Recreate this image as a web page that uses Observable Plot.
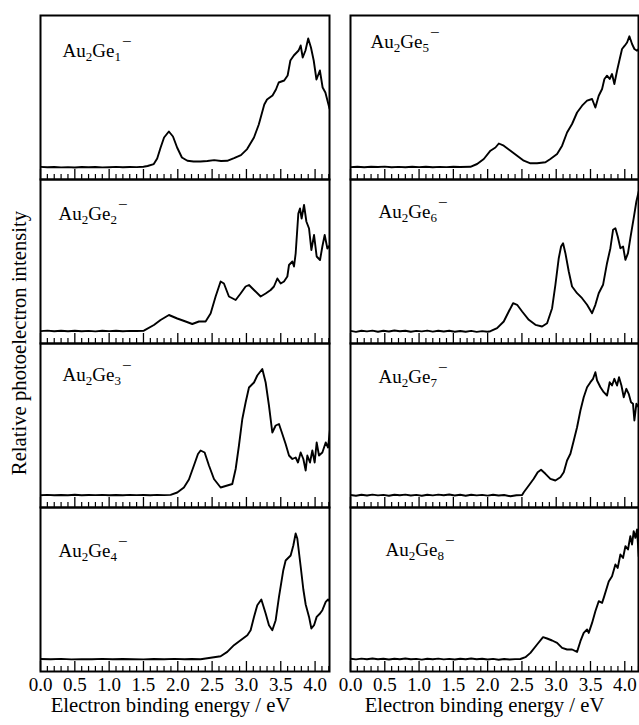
<!DOCTYPE html>
<html><head><meta charset="utf-8">
<script src="https://cdn.jsdelivr.net/npm/d3@7"></script>
<script src="https://cdn.jsdelivr.net/npm/@observablehq/plot@0.6"></script>
<style>
html,body{margin:0;padding:0;background:#fff;}
#chart{position:relative;width:639px;height:725px;overflow:hidden;background:#fff;}
#chart svg{position:absolute;}
</style></head><body><div id="chart"></div>
<script>
// ---- data (electron binding energy in eV, relative intensity in arbitrary units) ----
const species = ["Au2Ge1","Au2Ge2","Au2Ge3","Au2Ge4","Au2Ge5","Au2Ge6","Au2Ge7","Au2Ge8"];
const majorTicks = [0.0,0.5,1.0,1.5,2.0,2.5,3.0,3.5,4.0];
const minorTicks = [0.1,0.2,0.3,0.4,0.6,0.7,0.8,0.9,1.1,1.2,1.3,1.4,1.6,1.7,1.8,1.9,2.1,2.2,2.3,2.4,2.6,2.7,2.8,2.9,3.1,3.2,3.3,3.4,3.6,3.7,3.8,3.9,4.1,4.2];
const xTitle = "Electron binding energy / eV";
const yTitle = "Relative photoelectron intensity";

const ge1 = [[0.00,0.6],[0.10,0.2],[0.20,0.5],[0.30,0.1],[0.40,0.4],[0.50,0.0],[0.60,0.5],[0.70,0.2],[0.80,0.5],[0.90,0.1],[1.00,0.3],[1.10,0.6],[1.20,0.2],[1.30,0.5],[1.40,0.4],[1.50,0.8],[1.56,1.5],[1.65,3.4],[1.70,9],[1.75,20],[1.80,30],[1.87,36],[1.93,31],[1.99,20],[2.06,10],[2.14,6.7],[2.23,6.0],[2.33,6.0],[2.43,6.5],[2.53,7.4],[2.63,6.5],[2.72,6.7],[2.82,9.4],[2.92,12.4],[3.01,18.4],[3.11,30],[3.18,43],[3.26,63],[3.30,68],[3.38,72],[3.43,78],[3.47,85],[3.55,87],[3.60,92],[3.64,107],[3.69,112],[3.76,117],[3.79,122],[3.82,110],[3.86,117],[3.90,129],[3.94,120],[3.98,107],[4.02,88],[4.07,97],[4.11,80],[4.15,75],[4.21,59]];
const ge2 = [[0.00,0.4],[0.10,0.9],[0.20,0.3],[0.30,0.7],[0.40,0.2],[0.50,0.8],[0.60,0.3],[0.70,0.6],[0.80,0.1],[0.90,0.7],[1.00,0.4],[1.10,0.8],[1.20,0.3],[1.30,0.6],[1.40,0.5],[1.506,0.8],[1.652,6.5],[1.749,11.5],[1.871,16.5],[1.992,13],[2.114,10],[2.211,7.5],[2.308,10],[2.405,10],[2.478,18],[2.551,35],[2.624,50],[2.672,48],[2.745,35],[2.843,31.5],[2.915,38],[2.988,45],[3.037,46.5],[3.110,41.5],[3.207,35],[3.280,38],[3.353,41.5],[3.401,45],[3.450,53],[3.499,48],[3.547,50],[3.596,55],[3.620,66.5],[3.669,70],[3.693,65],[3.717,78],[3.756,118],[3.780,123],[3.804,113],[3.839,126.5],[3.873,110],[3.912,103],[3.946,81.5],[3.985,96.5],[4.023,75],[4.072,71.5],[4.106,85],[4.140,96.5],[4.179,83],[4.218,86.5]];
const ge3 = [[0.00,0.3],[0.10,0.6],[0.20,0.2],[0.30,0.5],[0.40,0.3],[0.50,0.7],[0.60,0.2],[0.70,0.5],[0.80,0.4],[0.90,0.6],[1.00,0.2],[1.10,0.5],[1.20,0.3],[1.30,0.6],[1.40,0.4],[1.50,0.5],[1.60,0.3],[1.70,0.6],[1.80,0.4],[1.895,0.6],[1.992,3],[2.089,8],[2.162,16],[2.235,30],[2.294,41.5],[2.332,45],[2.391,43],[2.454,30],[2.527,16.5],[2.624,8],[2.721,10],[2.794,11.5],[2.843,26.5],[2.891,50],[2.940,76.5],[2.988,93],[3.037,108],[3.110,113],[3.158,120],[3.231,126.5],[3.280,113],[3.328,90],[3.377,63],[3.426,70],[3.474,71.5],[3.523,61.5],[3.571,51.5],[3.620,40],[3.669,36.5],[3.717,38],[3.751,33],[3.790,43],[3.829,36.5],[3.863,25],[3.887,40],[3.926,33],[3.960,45],[3.994,33],[4.023,53],[4.057,40],[4.106,43],[4.155,53],[4.189,48],[4.218,66.5]];
const ge4 = [[0.00,0.5],[0.15,0.2],[0.30,0.6],[0.45,0.1],[0.60,0.4],[0.75,0.3],[0.90,0.6],[1.05,0.2],[1.20,0.5],[1.35,0.3],[1.50,0.1],[1.65,0.5],[1.80,0.3],[1.95,0.6],[2.10,0.2],[2.20,0.5],[2.332,0.3],[2.478,1.7],[2.624,3.3],[2.721,7.6],[2.818,14.3],[2.915,19.3],[3.013,24.3],[3.061,29.3],[3.110,42.6],[3.158,54.3],[3.217,60],[3.280,46],[3.328,34.3],[3.377,29.3],[3.426,39.3],[3.474,62.6],[3.537,89.3],[3.571,99],[3.644,104],[3.683,114],[3.717,126],[3.741,121],[3.790,93],[3.829,70],[3.863,55],[3.912,42.6],[3.946,31],[3.985,34.3],[4.023,42.6],[4.072,46],[4.106,49.3],[4.155,57.6],[4.189,60],[4.218,57.6]];
const ge5 = [[0.00,0.4],[0.10,0.8],[0.20,0.3],[0.30,0.7],[0.40,0.5],[0.50,0.9],[0.60,0.3],[0.70,0.6],[0.80,0.2],[0.90,0.7],[1.00,0.4],[1.10,0.8],[1.20,0.3],[1.30,0.6],[1.40,0.4],[1.50,0.7],[1.60,0.5],[1.749,0.7],[1.846,3.5],[1.944,8.5],[2.041,16.8],[2.114,20],[2.163,24],[2.235,21.8],[2.333,16.8],[2.430,11.8],[2.527,6.8],[2.624,4.2],[2.721,4.2],[2.843,5.2],[2.915,8.5],[3.013,13.5],[3.086,21.8],[3.158,35],[3.231,43.5],[3.304,55],[3.377,61.8],[3.450,66.8],[3.523,68.5],[3.571,60],[3.620,71.8],[3.669,78.5],[3.703,88.5],[3.741,91.8],[3.780,88.5],[3.814,93.5],[3.848,83.5],[3.887,96.8],[3.926,108.5],[3.960,118.5],[3.999,121.8],[4.033,125],[4.067,131.2],[4.106,123.5],[4.140,118.5],[4.179,116.8],[4.203,118.5]];
const ge6 = [[0.00,0.6],[0.08,-0.4],[0.16,0.8],[0.24,0.1],[0.32,0.9],[0.40,-0.2],[0.48,0.7],[0.56,0.0],[0.64,1.0],[0.72,0.2],[0.80,0.8],[0.88,-0.3],[0.96,0.6],[1.04,0.1],[1.12,0.9],[1.20,-0.1],[1.28,0.7],[1.36,0.0],[1.44,0.8],[1.52,-0.3],[1.60,0.5],[1.68,-0.2],[1.76,0.6],[1.84,-0.4],[1.92,0.4],[2.00,-0.2],[2.041,0.3],[2.138,3.3],[2.235,10],[2.308,20],[2.371,28.3],[2.430,26.7],[2.503,20],[2.600,11.7],[2.697,6.7],[2.794,5],[2.867,8.3],[2.940,23.3],[2.988,46.7],[3.037,73.3],[3.071,85],[3.100,88.3],[3.134,78.3],[3.183,60],[3.231,45],[3.304,38.3],[3.377,33.3],[3.450,26.7],[3.523,18.3],[3.571,26.7],[3.620,38.3],[3.683,46.7],[3.741,68.3],[3.790,83.3],[3.829,101.7],[3.863,103.3],[3.897,95],[3.936,83.3],[3.975,85],[4.009,71.7],[4.047,78.3],[4.081,93.3],[4.130,113.3],[4.169,130],[4.203,140]];
const ge7 = [[0.00,0.5],[0.08,-0.3],[0.16,0.7],[0.24,0.0],[0.32,0.9],[0.40,0.1],[0.48,0.6],[0.56,-0.2],[0.64,0.8],[0.72,0.2],[0.80,0.9],[0.88,0.0],[0.96,0.6],[1.04,-0.3],[1.12,0.7],[1.20,0.1],[1.28,0.9],[1.36,0.2],[1.44,1.0],[1.52,0.0],[1.60,0.7],[1.68,-0.2],[1.76,0.8],[1.84,0.1],[1.92,0.6],[2.00,-0.1],[2.08,0.7],[2.16,0.0],[2.24,0.5],[2.332,-0.8],[2.42,0.3],[2.503,0.5],[2.527,3.3],[2.600,10],[2.672,16.7],[2.730,23.3],[2.779,25.7],[2.843,21.7],[2.915,16.7],[2.988,15],[3.061,18.3],[3.110,23.3],[3.158,35],[3.207,41.7],[3.256,55],[3.304,68.3],[3.353,85],[3.401,98.3],[3.450,108.3],[3.499,113.3],[3.537,116.7],[3.571,123.3],[3.596,115],[3.645,108.3],[3.693,103.3],[3.741,100],[3.780,113.3],[3.814,110],[3.848,116.7],[3.887,110],[3.916,118.3],[3.951,110],[3.985,98.3],[4.023,106.7],[4.057,101.7],[4.091,93.3],[4.120,91.7],[4.140,75],[4.169,91.7],[4.203,88.3]];
const ge8 = [[0.00,0.8],[0.08,0.1],[0.16,0.9],[0.24,0.3],[0.32,1.0],[0.40,0.2],[0.48,0.8],[0.56,0.0],[0.64,0.7],[0.72,0.3],[0.80,1.0],[0.88,0.2],[0.96,0.6],[1.04,-0.1],[1.12,0.7],[1.20,0.3],[1.28,0.9],[1.36,0.1],[1.44,0.6],[1.52,0.0],[1.60,0.8],[1.68,0.2],[1.76,1.0],[1.84,0.3],[1.92,0.7],[2.00,0.0],[2.08,0.6],[2.16,-0.2],[2.24,0.5],[2.32,0.0],[2.40,0.4],[2.478,0.5],[2.551,2.3],[2.624,6.6],[2.721,15],[2.808,22.3],[2.867,21],[2.940,19],[3.013,16.6],[3.086,11.6],[3.158,10],[3.231,10],[3.304,7.6],[3.353,18.3],[3.401,26.6],[3.450,30],[3.474,26.6],[3.523,36.6],[3.571,48.3],[3.620,58.3],[3.669,56.6],[3.693,61.6],[3.766,78],[3.814,83.3],[3.863,95],[3.897,91.6],[3.936,105],[3.975,101.6],[4.009,113.3],[4.047,110],[4.081,123.3],[4.106,115],[4.130,128.3],[4.155,121.6],[4.179,130],[4.203,103.3]];

const spectra = [ge1, ge2, ge3, ge4, ge5, ge6, ge7, ge8];

// ---- layout (pixels) ----
const colLeft = [40, 350], colWidth = [289, 288], xMax = [4.21, 4.2];
const rowTop = [15, 179, 343, 507], panelH = 164;
const labelPos = [[22,41],[18,40],[22,37],[18,49],[20,32],[28,38],[28,39],[35,48]];
const titleDx = [-14.5, -10];
const font = "'Liberation Serif', serif";

const chart = document.getElementById("chart");

function richLabel(svg) {
  svg.querySelectorAll("text").forEach(t => {
    const m = /^Au(\d)Ge(\d)$/.exec(t.textContent);
    if (!m) return;
    t.textContent = "";
    const add = (s, attrs) => {
      const ts = document.createElementNS("http://www.w3.org/2000/svg", "tspan");
      ts.textContent = s;
      for (const k in attrs) ts.setAttribute(k, attrs[k]);
      t.appendChild(ts);
    };
    add("Au", {});
    add(m[1], {"font-size": 13, dy: 4});
    add("Ge", {dy: -4});
    add(m[2], {"font-size": 13, dy: 4});
    add("\u2212", {"font-size": 17, dy: -14, dx: 1});
  });
}

species.forEach((name, i) => {
  const col = i < 4 ? 0 : 1, row = i % 4;
  const bottom = row === 3;
  const mt = 2, ml = 2, mr = 2, mb = bottom ? 54 : 2;
  const data = spectra[i].map(([e, v]) => ({e, v}));
  const marks = [
    Plot.tickX(minorTicks, {x: d => d, insetTop: panelH - 5, stroke: "#000", strokeWidth: 1.2}),
    Plot.tickX(majorTicks, {x: d => d, insetTop: panelH - 10, stroke: "#000", strokeWidth: 1.3}),
    Plot.line(data, {x: "e", y: "v", stroke: "#000", strokeWidth: 1.9, strokeLinejoin: "round", clip: true}),
    Plot.text([name], {frameAnchor: "top-left", textAnchor: "start", lineAnchor: "bottom", dx: labelPos[i][0], dy: labelPos[i][1], fontSize: 19, fill: "#000", fontFamily: font}),
    Plot.frame({stroke: "#000", strokeWidth: 2})
  ];
  if (bottom) {
    marks.push(Plot.axisX(majorTicks, {anchor: "bottom", tickSize: 0, tickPadding: 6, tickFormat: d => d.toFixed(1), fontSize: 19, fill: "#000", fontFamily: font, label: null}));
    marks.push(Plot.text([xTitle], {frameAnchor: "bottom", lineAnchor: "bottom", dy: 40.5, dx: titleDx[col], fontSize: 20.7, fill: "#000", fontFamily: font}));
  }
  const svg = Plot.plot({
    width: colWidth[col] + ml + mr,
    height: panelH + mt + mb,
    marginTop: mt, marginLeft: ml, marginRight: mr, marginBottom: mb,
    x: {domain: [0, xMax[col]], axis: bottom ? undefined : null},
    y: {domain: [-12, 152], axis: null},
    style: {fontFamily: font, fontSize: "19px", color: "#000", background: "transparent", overflow: "visible"},
    marks
  });
  richLabel(svg);
  svg.style.left = (colLeft[col] - ml) + "px";
  svg.style.top = (rowTop[row] - mt) + "px";
  chart.appendChild(svg);
});

// shared y-axis title
const ysvg = d3.select(chart).append("svg")
  .attr("width", 40).attr("height", 725)
  .style("left", "0px").style("top", "0px");
ysvg.append("text")
  .attr("transform", "translate(25.5,343) rotate(-90)")
  .attr("text-anchor", "middle")
  .style("font-family", font)
  .attr("font-size", 20.7)
  .attr("fill", "#000")
  .text(yTitle);
</script>
</body></html>
